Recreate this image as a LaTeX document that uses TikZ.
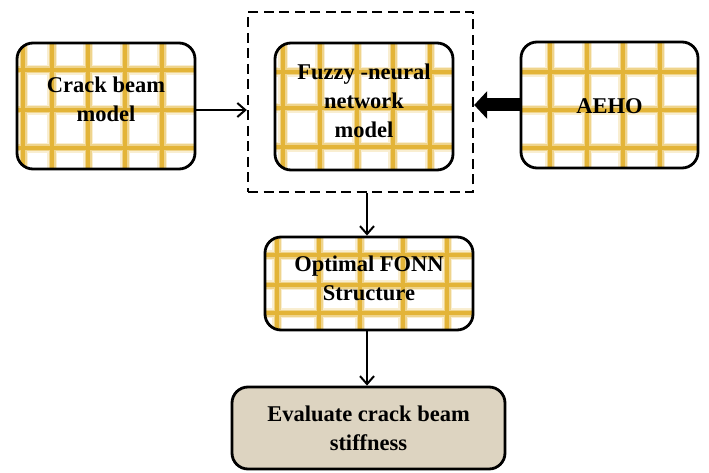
\documentclass[tikz,border=0pt]{standalone}
\usepackage{fontspec}
\setmainfont{Liberation Serif}
\usetikzlibrary{arrows.meta}
\definecolor{gridgold}{RGB}{226,176,46}
\definecolor{linen}{RGB}{221,212,193}
% one layer of the woven grid: vertical lines at #2, horizontal lines at #3
\newcommand\gridlayer[3]{%
  \foreach \gx in {#2}{\draw[#1] (\gx,0) -- (\gx,473);}%
  \foreach \gy in {#3}{\draw[#1] (0,\gy) -- (709,\gy);}}
\tikzset{
  glowA/.style={draw=gridgold!22, line width=10pt},
  glowB/.style={draw=gridgold!55, line width=7pt},
  glowC/.style={draw=gridgold!95, line width=4pt},
  gridbox/.style 2 args={fill=white, path picture={%
      \pgftransformreset
      \gridlayer{glowA}{#1}{#2}\gridlayer{glowB}{#1}{#2}\gridlayer{glowC}{#1}{#2}}},
  blk/.style={draw=black, line width=2.8pt, rounded corners=16pt, inner sep=0pt},
  lbl/.style={font=\bfseries\fontsize{22.5}{29}\selectfont, align=center, inner sep=0pt},
  arr/.style={draw=black, line width=2pt, -{Straight Barb[length=8pt,width=14pt,line width=2pt]}},
  fat/.style={draw=black, line width=13pt, -{Triangle[length=13pt,width=27pt]}},
  grpbox/.style={draw=black, line width=2.3pt, dash pattern=on 10pt off 5.5pt, inner sep=0pt}
}
\begin{document}
\begin{tikzpicture}[x=1pt, y=-1pt]
\useasboundingbox (0,0) rectangle (709,473);
\fill[white] (0,0) rectangle (709,473);

% group frame around the fuzzy-neural model
\node[grpbox, minimum width=225pt, minimum height=180pt] (grp) at (360.5,102) {};

% boxes
\node[blk, gridbox={23,52,88,125,162}{70,110,148}, minimum width=178pt, minimum height=126pt] (crack) at (106,106) {};
\node[blk, gridbox={283,320,357,393,430}{72,108,147}, minimum width=178pt, minimum height=127pt] (fnn) at (364,106.5) {};
\node[blk, gridbox={550,587,623,660}{72,110,148}, minimum width=177pt, minimum height=126pt] (aeho) at (609.5,105) {};
\node[blk, gridbox={277,319,360,403,447}{255,285,313}, minimum width=208pt, minimum height=93pt] (fonn) at (369,283.5) {};
\node[blk, fill=linen, minimum width=273pt, minimum height=82pt] (eval) at (368.5,428) {};

% labels
\node[lbl, yshift=6.5pt] (crackT) at (crack.center) {Crack beam\\model};
\node[lbl, yshift=5.5pt] (fnnT) at (fnn.center) {Fuzzy -neural\\network\\model};
\node[lbl, yshift=-1.5pt] (aehoT) at (aeho.center) {AEHO};
\node[lbl, yshift=5pt] (fonnT) at (fonn.center) {Optimal FONN\\Structure};
\node[lbl] (evalT) at (eval.center) {Evaluate crack beam\\stiffness};

% connectors
\draw[arr] ([yshift=-4pt]crack.east) -- ([yshift=-4pt]crack.east -| grp.west);
\draw[fat] (aeho.west) -- (aeho.west -| grp.east);
\draw[arr] ([xshift=-2pt]fonn.north |- grp.south) -- ([xshift=-2pt]fonn.north);
\draw[arr] ([xshift=-2pt]fonn.south) -- ([xshift=-2pt]fonn.south |- eval.north);
\end{tikzpicture}
\end{document}
